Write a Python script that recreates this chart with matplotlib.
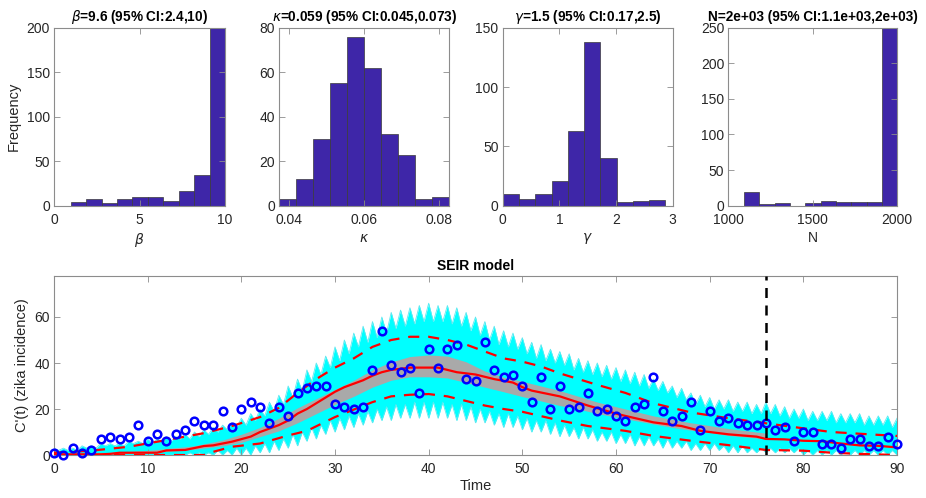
import matplotlib

matplotlib.use("Agg")

import matplotlib.pyplot as plt
import numpy as np

plt.rcParams["font.family"] = ["Liberation Sans", "DejaVu Sans"]
plt.rcParams["mathtext.fontset"] = "dejavusans"

# --- histogram bin edges / counts (300 bootstrap estimates each) ---
beta_edges = [0.97, 1.87, 2.78, 3.68, 4.58, 5.48, 6.39, 7.29, 8.19, 9.10, 10.0]
beta_counts = [4, 8, 3, 8, 10, 10, 5, 17, 35, 200]
kappa_edges = [0.0373, 0.0418, 0.0463, 0.0509, 0.0554, 0.0600, 0.0645, 0.0691,
               0.0736, 0.0781, 0.0827]
kappa_counts = [3, 12, 30, 55, 76, 62, 32, 23, 3, 4]
gamma_edges = [0.0, 0.287, 0.574, 0.861, 1.148, 1.435, 1.722, 2.009, 2.296, 2.583, 2.87]
gamma_counts = [10, 6, 10, 21, 63, 138, 40, 3, 4, 5]
n_edges = [1093, 1184, 1274, 1365, 1456, 1546, 1637, 1728, 1819, 1909, 2000]
n_counts = [19, 2, 4, 0, 4, 7, 5, 5, 5, 249]

hist_titles = [
    r"$\beta$=9.6 (95% CI:2.4,10)",
    r"$\kappa$=0.059 (95% CI:0.045,0.073)",
    r"$\gamma$=1.5 (95% CI:0.17,2.5)",
    "N=2e+03 (95% CI:1.1e+03,2e+03)",
]
hist_xlabels = [r"$\beta$", r"$\kappa$", r"$\gamma$", "N"]
hist_xlims = [(0, 10), (0.0373, 0.0827), (0, 3), (1000, 2000)]
hist_xticks = [[0, 5, 10], [0.04, 0.06, 0.08], [0, 1, 2, 3], [1000, 1500, 2000]]
hist_xticklabels = [["0", "5", "10"], ["0.04", "0.06", "0.08"], ["0", "1", "2", "3"],
                    ["1000", "1500", "2000"]]
hist_ylims = [200, 80, 150, 250]
hist_yticks = [[0, 50, 100, 150, 200], [0, 20, 40, 60, 80], [0, 50, 100, 150],
               [0, 50, 100, 150, 200, 250]]

# --- observed daily incidence ---
obs = [1, 0, 3, 1, 2, 7, 8, 7, 8, 13, 6, 9, 6, 9, 11, 15, 13, 13, 19, 12,
       20, 23, 21, 14, 21, 17, 27, 29, 30, 30, 22, 21, 20, 21, 37, 54, 39, 36, 38, 27,
       46, 38, 46, 48, 33, 32, 49, 37, 34, 35, 30, 23, 34, 20, 30, 20, 21, 27, 19, 20,
       17, 15, 21, 22, 34, 19, 15, 17, 23, 11, 19, 15, 16, 14, 13, 13, 14, 11, 12, 6,
       10, 10, 5, 5, 3, 7, 7, 4, 4, 8, 5]

# --- envelope of the simulated realisations (cyan), per day and at half days ---
cyan_peak = [3, 3, 3, 4, 4, 5, 5, 5, 6, 6,
             7, 7, 8, 8, 9, 10, 11, 12, 13, 14,
             16, 18, 20, 23, 26, 30, 33, 37, 40, 43,
             47, 50, 53, 56, 58, 60, 62, 63, 64, 65,
             66, 65, 65, 64, 62, 60, 58, 56, 54, 53,
             51, 49, 48, 46, 45, 44, 42, 41, 40, 39,
             38, 37, 36, 35, 33, 32, 30, 29, 27, 26,
             25, 24, 24, 23, 23, 22, 23, 22, 21, 20,
             20, 19, 19, 19, 18, 18, 18, 17, 17, 17, 16]
cyan_trough = [2, 2, 2, 3, 3, 4, 4, 4, 5, 5,
               5, 6, 6, 7, 7, 8, 9, 10, 11, 12,
               13, 15, 17, 19, 22, 25, 28, 32, 35, 38,
               41, 44, 47, 49, 51, 53, 55, 56, 57, 58,
               58, 58, 57, 56, 54, 52, 50, 48, 47, 46,
               44, 42, 41, 40, 39, 37, 36, 35, 34, 33,
               32, 31, 30, 29, 28, 27, 25, 24, 22, 21,
               20, 20, 19, 19, 18, 18, 18, 17, 16, 16,
               15, 15, 15, 14, 14, 14, 13, 13, 13, 12]
cyan_low = ([0] * 20 +
            [0, 0, 1, 1, 2, 3, 4, 6, 7, 9,
             10, 11, 12, 13, 14, 15, 15, 16, 16, 16,
             16, 16, 16, 15, 15, 14, 14, 13, 12, 12,
             11, 10, 10, 9, 8, 8, 7, 7, 6, 6,
             5, 5, 4, 4, 4, 3, 3, 3, 2, 2,
             2, 2, 1, 1, 1, 1, 1, 1, 1, 1] +
            [0] * 11)
cyan_low_mid = ([0] * 10 +
                [0, 0, 0, 0, 1, 1, 1, 2, 2, 3,
                 3, 4, 5, 6, 7, 9, 10, 12, 13, 15,
                 16, 17, 18, 19, 20, 21, 22, 22, 23, 23,
                 23, 23, 22, 22, 21, 20, 19, 18, 18, 17,
                 16, 15, 15, 14, 13, 12, 12, 11, 10, 10,
                 9, 9, 8, 8, 7, 7, 6, 6, 5, 5,
                 5, 4, 4, 4, 3, 3, 3, 3, 3, 3] +
                [2] * 10)

# --- band of fitted curves (grey), only over the fitting window ---
grey_t = [0, 5, 10, 15, 18, 20, 22, 24, 26, 28, 30, 32, 34, 36, 38, 40, 42, 44,
          46, 48, 50, 52, 54, 56, 58, 60, 62, 64, 66, 68, 70, 72, 74, 76]
grey_hi = [0.5, 1, 2, 4, 6.5, 9, 12, 16, 20.5, 24.5, 28.5, 32.5, 37, 40.5, 42.8, 43.5,
           43, 40.5, 36.5, 33.8, 32, 30, 28, 25.5, 23, 21, 19, 17, 15.5, 14, 12.8,
           11.5, 10.5, 9.5]
grey_lo = [0, 0.3, 1, 2.5, 4, 5.5, 8, 10.5, 14, 18, 22, 25.5, 29.5, 32.5, 34, 34,
           33.5, 31.5, 29.5, 27.5, 25.4, 23.5, 21.5, 20, 18, 16.5, 15, 13.5, 12,
           10.8, 9.8, 8.5, 7.8, 7]

# --- median and 95% limits of the realisations ---
med_t = [0, 5, 6, 7, 11, 12, 14, 16, 17, 19, 21, 22, 24, 25, 26, 27, 28, 29, 30,
         31, 32, 33, 34, 35, 36, 38, 41, 43, 45, 47, 49, 50, 51, 54, 57, 60, 61,
         64, 67, 69, 72, 75, 76, 78, 80, 82, 84, 86, 88, 90]
med_v = [0.3, 0.3, 0.5, 1, 1, 2, 2.2, 3.9, 4.2, 5.8, 8, 10, 13, 15, 18, 20, 22.5,
         25, 27.5, 29.5, 31, 32.5, 34.5, 36, 37, 38, 38, 36, 35, 33, 31.5, 29.5,
         28, 25.5, 21.5, 18, 17, 14.2, 12.6, 10.5, 9, 8, 7, 6.8, 6.2, 6, 5, 4.2,
         4, 3.3]
hi_t = [0, 4, 8, 12, 16, 19, 22, 24, 26, 28, 30, 32, 34, 36, 38, 40, 42, 44, 46,
        48, 50, 52, 54, 56, 58, 61, 64, 68, 72, 76, 80, 83, 87, 90]
hi_v = [1, 1.9, 3.6, 6.5, 9.5, 12.6, 16.5, 20.5, 27, 33, 38, 42, 47, 50, 51.4,
        51.4, 50, 48, 45, 42, 40.6, 38.5, 35.5, 33, 30.5, 27, 22.5, 18.5, 16,
        13.8, 11.6, 10, 9, 8.3]
lo_t = [0, 16, 17, 19, 22, 25, 27, 30, 34, 36, 38, 40, 42, 44, 46, 48, 50, 54,
        57, 61, 64, 68, 72, 76, 80, 83, 86, 90]
lo_v = [0, 0, 1.4, 3.6, 5, 8.5, 10.5, 16.5, 23, 25.5, 26.2, 26.5, 25.5, 23.5,
        21.5, 20, 18.8, 15, 12.6, 10.5, 8.3, 6.2, 4.3, 2.2, 1.9, 1, 0.5, 0]

fit_end = 76

AX_GREY = "#8c8c8c"
TXT = "#262626"


def matlab_style(ax):
    for s in ax.spines.values():
        s.set_color(AX_GREY)
        s.set_linewidth(0.8)
    ax.tick_params(direction="in", top=True, right=True, length=4, width=0.6,
                   color=AX_GREY, labelcolor=TXT, labelsize=10, pad=3)
    ax.tick_params(axis="x", pad=5)


fig = plt.figure(figsize=(9.26, 4.98), dpi=100)

hist_pos = [[0.0583, 0.587, 0.1847, 0.3574], [0.3013, 0.587, 0.1839, 0.3574],
            [0.5429, 0.587, 0.1836, 0.3574], [0.7865, 0.587, 0.1825, 0.3574]]
hist_data = [(beta_edges, beta_counts), (kappa_edges, kappa_counts),
             (gamma_edges, gamma_counts), (n_edges, n_counts)]

for i, (edges, counts) in enumerate(hist_data):
    ax = fig.add_axes(hist_pos[i])
    edges = np.asarray(edges, dtype=float)
    ax.bar(edges[:-1], counts, width=np.diff(edges), align="edge",
           color="#3E26A8", edgecolor="#3a3a3a", linewidth=0.5)
    ax.set_xlim(*hist_xlims[i])
    ax.set_ylim(0, hist_ylims[i])
    ax.set_xticks(hist_xticks[i])
    ax.set_xticklabels(hist_xticklabels[i])
    ax.set_yticks(hist_yticks[i])
    ax.set_title(hist_titles[i], fontsize=9.8, fontweight="bold", color="black", pad=4.5)
    ax.set_xlabel(hist_xlabels[i], fontsize=10, color=TXT, labelpad=3)
    if i == 0:
        ax.set_ylabel("Frequency", fontsize=10.5, color=TXT)
    matlab_style(ax)

# --- bottom: SEIR model fit ---
ax = fig.add_axes([0.0583, 0.0863, 0.9104, 0.3594])
t_day = np.arange(len(cyan_peak), dtype=float)
t_half = t_day[:-1] + 0.5
band_x = np.empty(len(t_day) + len(t_half))
band_x[0::2] = t_day
band_x[1::2] = t_half
band_hi = np.empty_like(band_x)
band_hi[0::2] = cyan_peak
band_hi[1::2] = cyan_trough
band_lo = np.empty_like(band_x)
band_lo[0::2] = cyan_low
band_lo[1::2] = cyan_low_mid

ax.fill_between(band_x, band_lo, band_hi, color="#00FFFF", linewidth=0, zorder=1)
ax.plot(band_x, band_hi, color="#5CE8F0", linewidth=0.6, zorder=1)
ax.plot(band_x, band_lo, color="#5CE8F0", linewidth=0.6, zorder=1)
ax.fill_between(grey_t, grey_lo, grey_hi, color="#A9A9A9", linewidth=0, zorder=2)
ax.plot(med_t, med_v, color="red", linewidth=1.6, zorder=3)
ax.plot(hi_t, hi_v, color="red", linewidth=1.6, linestyle=(0, (5, 4)), zorder=3)
ax.plot(lo_t, lo_v, color="red", linewidth=1.6, linestyle=(0, (5, 4)), zorder=3)
ax.plot(np.arange(len(obs)), obs, "o", markerfacecolor="none", markeredgecolor="blue",
        markeredgewidth=1.8, markersize=5.5, zorder=4, clip_on=False)
ax.axvline(fit_end, color="black", linestyle=(0, (4, 3)), linewidth=1.8, zorder=5)

ax.set_xlim(0, 90)
ax.set_ylim(0, 77.8)
ax.set_xticks(np.arange(0, 91, 10))
ax.set_yticks([0, 20, 40, 60])
ax.set_title("SEIR model", fontsize=10, fontweight="bold", color="black", pad=4)
ax.set_xlabel("Time", fontsize=10.5, color=TXT, labelpad=2)
ax.set_ylabel("C'(t) (zika incidence)", fontsize=10.5, color=TXT)
matlab_style(ax)

fig.savefig("out.png", dpi=100)
